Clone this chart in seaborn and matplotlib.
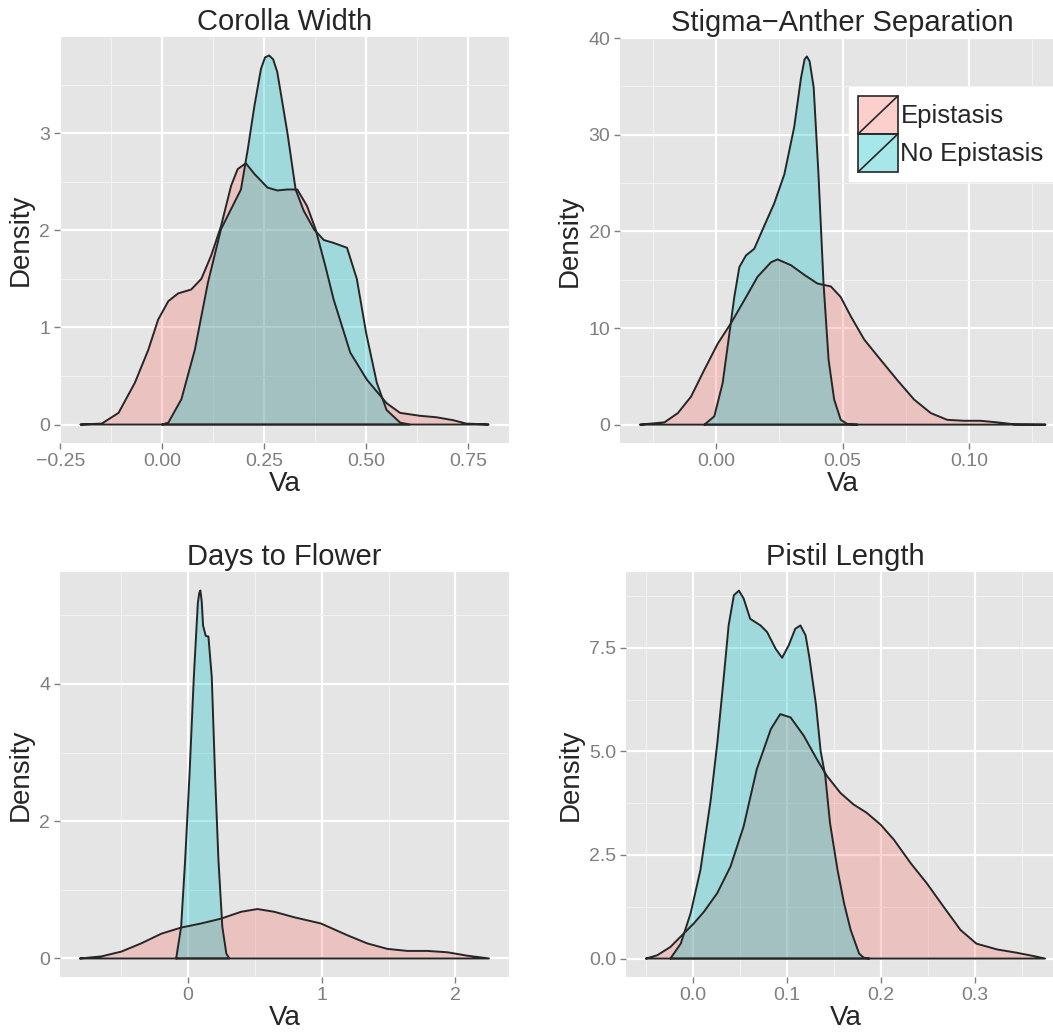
import numpy as np
import pandas as pd
import matplotlib
matplotlib.use("Agg")
import matplotlib.pyplot as plt
import seaborn as sns
from matplotlib.patches import Patch, Rectangle
from matplotlib.lines import Line2D
from matplotlib.legend_handler import HandlerPatch

# ---- density curves (Va, density) ----
cw_epi_x = [-0.200, -0.148, -0.107, -0.067, -0.034, -0.010, 0.015, 0.039, 0.071, 0.096,
            0.120, 0.144, 0.169, 0.185, 0.205, 0.226, 0.258, 0.282, 0.307, 0.331,
            0.355, 0.376, 0.400, 0.420, 0.461, 0.502, 0.550, 0.583, 0.632, 0.672,
            0.713, 0.745, 0.800]
cw_epi_y = [0.00, 0.01, 0.12, 0.43, 0.77, 1.08, 1.27, 1.35, 1.39, 1.50,
            1.74, 2.04, 2.46, 2.63, 2.69, 2.58, 2.44, 2.41, 2.42, 2.42,
            2.25, 2.01, 1.63, 1.29, 0.74, 0.46, 0.22, 0.12, 0.09, 0.075,
            0.045, 0.01, 0.00]
cw_noe_x = [0.000, 0.015, 0.047, 0.080, 0.112, 0.144, 0.169, 0.193, 0.210, 0.226,
            0.242, 0.252, 0.262, 0.272, 0.282, 0.307, 0.327, 0.347, 0.372, 0.396, 0.420, 0.453,
            0.477, 0.500, 0.526, 0.550, 0.583, 0.607]
cw_noe_y = [0.00, 0.02, 0.26, 0.77, 1.46, 2.01, 2.22, 2.42, 2.84, 3.28,
            3.66, 3.78, 3.80, 3.76, 3.63, 3.00, 2.42, 2.20, 2.01, 1.90, 1.87, 1.82,
            1.50, 0.94, 0.43, 0.15, 0.02, 0.00]

sa_epi_x = [-0.0300, -0.0204, -0.0151, -0.0099, -0.0046, 0.0007, 0.0059, 0.0112, 0.0164, 0.0217,
            0.0243, 0.0296, 0.0349, 0.0401, 0.0454, 0.0493, 0.0533, 0.0586, 0.0651, 0.0717,
            0.0783, 0.0849, 0.0914, 0.0980, 0.1046, 0.1110, 0.1180, 0.1303]
sa_epi_y = [0.0, 0.24, 1.2, 2.9, 5.7, 8.4, 10.5, 12.9, 15.3, 16.8,
            17.1, 16.5, 15.5, 14.6, 14.3, 13.2, 11.2, 8.8, 6.7, 4.6,
            2.6, 1.2, 0.5, 0.4, 0.4, 0.24, 0.03, 0.0]
sa_noe_x = [-0.0046, -0.0007, 0.0026, 0.0053, 0.0072, 0.0092, 0.0118, 0.0151, 0.0191, 0.0230,
            0.0270, 0.0309, 0.0336, 0.0350, 0.0359, 0.0370, 0.0386, 0.0405, 0.0425, 0.0445, 0.0467,
            0.0493, 0.0520, 0.0560]
sa_noe_y = [0.0, 0.86, 4.3, 9.5, 13.2, 16.3, 17.5, 18.2, 20.6, 22.9,
            25.9, 30.8, 35.9, 37.8, 38.1, 37.6, 34.9, 25.9, 14.6, 6.7, 2.6,
            0.5, 0.05, 0.0]

df_epi_x = [-0.805, -0.646, -0.497, -0.348, -0.199, -0.050, 0.100, 0.248, 0.398, 0.520,
            0.646, 0.795, 0.994, 1.190, 1.340, 1.490, 1.640, 1.790, 1.940, 2.090, 2.250]
df_epi_y = [0.00, 0.03, 0.10, 0.22, 0.36, 0.45, 0.51, 0.58, 0.68, 0.72,
            0.68, 0.60, 0.51, 0.34, 0.22, 0.14, 0.11, 0.11, 0.09, 0.04, 0.00]
df_noe_x = [-0.087, -0.050, -0.020, 0.012, 0.045, 0.075, 0.086, 0.094, 0.104, 0.114, 0.134, 0.154,
            0.179, 0.204, 0.229, 0.258, 0.288, 0.310]
df_noe_y = [0.00, 0.46, 1.43, 2.65, 4.10, 5.18, 5.33, 5.36, 5.20, 4.85, 4.70, 4.69,
            4.10, 2.65, 1.43, 0.46, 0.07, 0.00]

pl_epi_x = [-0.050, -0.038, -0.024, -0.0096, 0.001, 0.0117, 0.0259, 0.040, 0.054, 0.068,
            0.083, 0.093, 0.104, 0.118, 0.132, 0.143, 0.157, 0.171, 0.185, 0.200,
            0.214, 0.232, 0.249, 0.267, 0.285, 0.302, 0.324, 0.345, 0.363, 0.375]
pl_epi_y = [0.00, 0.08, 0.28, 0.61, 0.85, 1.13, 1.58, 2.22, 3.19, 4.57,
            5.54, 5.90, 5.82, 5.38, 4.81, 4.40, 4.00, 3.72, 3.52, 3.23,
            2.87, 2.30, 1.82, 1.25, 0.69, 0.36, 0.22, 0.14, 0.06, 0.00]
pl_noe_x = [-0.024, -0.013, -0.0025, 0.008, 0.019, 0.026, 0.033, 0.038, 0.0436, 0.049,
            0.054, 0.061, 0.072, 0.079, 0.088, 0.095, 0.102, 0.109, 0.1145, 0.120,
            0.124, 0.131, 0.136, 0.141, 0.146, 0.154, 0.161, 0.168, 0.177, 0.182, 0.188]
pl_noe_y = [0.00, 0.36, 1.09, 2.14, 3.84, 5.21, 6.83, 8.04, 8.77, 8.88,
            8.69, 8.20, 8.04, 7.88, 7.48, 7.26, 7.56, 7.96, 8.04, 7.80,
            7.27, 6.14, 5.01, 4.40, 3.27, 2.14, 1.33, 0.69, 0.12, 0.02, 0.00]

traits = ["Corolla Width", "Stigma\u2212Anther Separation", "Days to Flower", "Pistil Length"]
groups = ["Epistasis", "No Epistasis"]
curves = {
    traits[0]: [(cw_epi_x, cw_epi_y), (cw_noe_x, cw_noe_y)],
    traits[1]: [(sa_epi_x, sa_epi_y), (sa_noe_x, sa_noe_y)],
    traits[2]: [(df_epi_x, df_epi_y), (df_noe_x, df_noe_y)],
    traits[3]: [(pl_epi_x, pl_epi_y), (pl_noe_x, pl_noe_y)],
}

rows = []
for t in traits:
    for g, (xs, ys) in zip(groups, curves[t]):
        for x, y in zip(xs, ys):
            rows.append((t, g, x, y))
data = pd.DataFrame(rows, columns=["trait", "group", "Va", "density"])

# ---- style (old ggplot2 theme_grey look) ----
sns.set_style("darkgrid", {"axes.facecolor": "#E5E5E5", "grid.color": "white"})
plt.rcParams["font.family"] = ["Liberation Sans", "DejaVu Sans"]
fill_cols = {"Epistasis": "#F8766D", "No Epistasis": "#00BFC4"}
edge = "#262626"

fig = plt.figure(figsize=(10.53, 10.34), dpi=100)
W, H = 1053, 1034
boxes = {
    traits[0]: (60, 37, 509, 443),
    traits[1]: (620, 38, 1065, 443),
    traits[2]: (60, 572, 509, 977),
    traits[3]: (626, 572, 1065, 977),
}
lims = {
    traits[0]: ((-0.2505, 0.85), (-0.19, 3.99)),
    traits[1]: ((-0.038, 0.138), (-1.9, 40.01)),
    traits[2]: ((-0.955, 2.40), (-0.27, 5.63)),
    traits[3]: ((-0.0713, 0.3963), (-0.445, 9.33)),
}
xmaj = {
    traits[0]: [-0.25, 0, 0.25, 0.5, 0.75],
    traits[1]: [0, 0.05, 0.10],
    traits[2]: [0, 1, 2],
    traits[3]: [0, 0.1, 0.2, 0.3],
}
xlab = {
    traits[0]: ["\u22120.25", "0.00", "0.25", "0.50", "0.75"],
    traits[1]: ["0.00", "0.05", "0.10"],
    traits[2]: ["0", "1", "2"],
    traits[3]: ["0.0", "0.1", "0.2", "0.3"],
}
ymaj = {
    traits[0]: [0, 1, 2, 3],
    traits[1]: [0, 10, 20, 30, 40],
    traits[2]: [0, 2, 4],
    traits[3]: [0, 2.5, 5, 7.5],
}
ylab = {
    traits[0]: ["0", "1", "2", "3"],
    traits[1]: ["0", "10", "20", "30", "40"],
    traits[2]: ["0", "2", "4"],
    traits[3]: ["0.0", "2.5", "5.0", "7.5"],
}

for t in traits:
    l, tp, r, b = boxes[t]
    ax = fig.add_axes([l / W, 1 - b / H, (r - l) / W, (b - tp) / H])
    ax.set_facecolor("#E5E5E5")
    for g in groups:
        sub = data[(data.trait == t) & (data.group == g)]
        ax.fill_between(sub.Va, sub.density, 0, color=fill_cols[g], alpha=0.3, lw=0, zorder=2)
        closed = pd.concat([sub, sub.iloc[:1]])
        sns.lineplot(x=closed.Va.values, y=closed.density.values, ax=ax, sort=False,
                     estimator=None, color=edge, lw=1.4, zorder=3)
    xm = xmaj[t]
    ym = ymaj[t]
    ax.set_xticks(xm, xlab[t])
    ax.set_yticks(ym, ylab[t])
    xs = (xm[1] - xm[0]) / 2
    ys = (ym[1] - ym[0]) / 2
    ax.set_xticks(np.arange(xm[0] - xs, lims[t][0][1], 2 * xs), minor=True)
    ax.set_yticks(np.arange(ym[0] - ys, lims[t][1][1], 2 * ys), minor=True)
    ax.set_xlim(*lims[t][0])
    ax.set_ylim(*lims[t][1])
    ax.grid(which="major", color="white", lw=1.6)
    ax.grid(which="minor", color="#F2F2F2", lw=0.8)
    ax.set_axisbelow(True)
    for s in ax.spines.values():
        s.set_visible(False)
    ax.tick_params(which="major", length=4, width=1, color="#7F7F7F", labelcolor="#7F7F7F",
                   labelsize=14, pad=3, bottom=True, left=True)
    ax.tick_params(which="minor", length=0)
    ax.set_title(t, fontsize=21, pad=5)
    ax.set_xlabel("Va", fontsize=20, labelpad=1)
    ax.set_ylabel("Density", fontsize=20, labelpad=4)


class SlashKey(HandlerPatch):
    def create_artists(self, legend, orig, xd, yd, w, h, fs, trans):
        rect = Rectangle((-xd, -yd), w, h, facecolor=orig.get_facecolor(),
                         edgecolor=edge, lw=1.2, transform=trans)
        line = Line2D([-xd, -xd + w], [-yd, -yd + h], color=edge, lw=1.2, transform=trans)
        return [rect, line]


handles = [Patch(facecolor=matplotlib.colors.to_rgba(fill_cols[g], 0.35), edgecolor=edge) for g in groups]
leg = fig.legend(handles, groups, loc="upper left", bbox_to_anchor=(849 / W, 1 - 87 / H),
                 fontsize=18.5, frameon=True, fancybox=False, framealpha=1,
                 handler_map={Patch: SlashKey()}, handlelength=1.55, handleheight=1.9,
                 labelspacing=0.0, handletextpad=0.1, borderpad=0.35, borderaxespad=0)
leg.get_frame().set_edgecolor("white")
leg.get_frame().set_facecolor("white")

fig.savefig("out.png", dpi=100)
